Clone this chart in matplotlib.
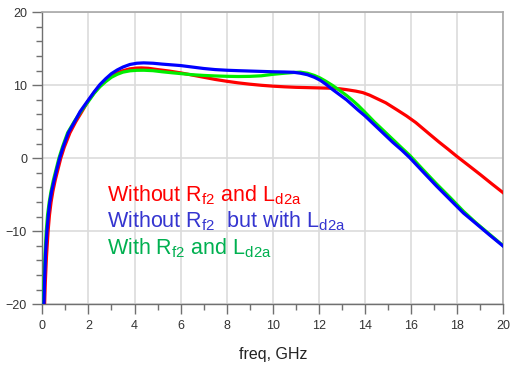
import matplotlib
matplotlib.use("Agg")
import matplotlib.pyplot as plt
from matplotlib.ticker import MultipleLocator

plt.rcParams['font.family'] = ['Liberation Sans', 'DejaVu Sans']
plt.rcParams['mathtext.fontset'] = 'custom'
plt.rcParams['mathtext.rm'] = 'Liberation Sans'
plt.rcParams['mathtext.it'] = 'Liberation Sans'

# Without Rf2 and Ld2a (red)
f_red = [0.10, 0.13, 0.18, 0.25, 0.31, 0.38, 0.46, 0.56, 0.68, 0.80, 0.95, 1.20, 1.45, 1.68, 2.0,
         2.25, 2.5, 2.75, 3.0, 3.25, 3.5, 3.8, 4.1, 4.3, 4.6, 5.0, 5.5, 6.0, 6.5, 7.0, 7.5, 8.0,
         8.5, 9.0, 9.5, 10.0, 10.5, 11.0, 11.5, 12.0, 12.5, 12.9, 13.2, 13.6, 13.9, 14.2, 14.5,
         14.9, 15.37, 15.8, 16.2, 16.5, 16.82, 17.2, 17.6, 17.98, 18.5, 19.0, 19.5, 20.0]
g_red = [-20.0, -17.0, -13.5, -10.0, -7.8, -6.0, -4.5, -3.0, -1.5, 0.0, 1.5, 3.5, 5.0, 6.2, 7.9,
         9.0, 10.0, 10.7, 11.3, 11.7, 12.0, 12.25, 12.36, 12.38, 12.33, 12.15, 11.95, 11.7, 11.4, 11.1, 10.8, 10.55,
         10.33, 10.15, 10.0, 9.88, 9.79, 9.72, 9.68, 9.64, 9.6, 9.52, 9.4, 9.2, 9.0, 8.65, 8.2,
         7.6, 6.67, 5.8, 4.9, 4.1, 3.25, 2.25, 1.25, 0.27, -1.0, -2.23, -3.5, -4.74]

# Without Rf2 but with Ld2a (blue)
f_blue = [0.07, 0.10, 0.14, 0.20, 0.26, 0.32, 0.40, 0.50, 0.62, 0.75, 0.90, 1.13, 1.40, 1.64, 2.0,
          2.25, 2.5, 2.75, 3.0, 3.25, 3.5, 3.8, 4.1, 4.4, 4.8, 5.2, 5.6, 6.0, 6.5, 7.0, 7.5, 8.0,
          8.5, 9.0, 9.5, 10.0, 10.5, 10.9, 11.2, 11.5, 11.8, 12.05, 12.3, 12.6, 12.9, 13.2, 13.45,
          13.7, 14.0, 14.4, 14.8, 15.2, 15.6, 15.95, 16.5, 17.1, 17.7, 18.27, 18.8, 19.4, 20.0]
g_blue = [-20.0, -16.5, -13.0, -10.0, -7.8, -6.1, -4.6, -3.2, -1.6, 0.0, 1.5, 3.5, 5.0, 6.4, 8.0,
          9.1, 10.1, 10.9, 11.6, 12.1, 12.5, 12.85, 13.02, 13.07, 13.02, 12.9, 12.8, 12.7, 12.5, 12.3, 12.15, 12.06,
          12.0, 11.95, 11.9, 11.85, 11.82, 11.78, 11.65, 11.45, 11.1, 10.7, 10.15, 9.4, 8.7, 8.0, 7.3,
          6.6, 5.8, 4.6, 3.4, 2.2, 1.1, 0.05, -1.8, -3.8, -5.7, -7.5, -8.9, -10.5, -12.05]

# With Rf2 and Ld2a (green)
f_green = [0.05, 0.08, 0.12, 0.17, 0.23, 0.30, 0.38, 0.48, 0.60, 0.72, 0.88, 1.10, 1.40, 1.65, 2.0,
           2.25, 2.5, 2.75, 3.0, 3.25, 3.5, 3.8, 4.1, 4.4, 4.8, 5.2, 5.6, 6.0, 6.5, 7.0, 7.5, 8.0,
           8.5, 9.0, 9.5, 10.0, 10.5, 10.9, 11.2, 11.5, 11.8, 12.05, 12.3, 12.6, 12.9, 13.2, 13.45,
           13.7, 14.0, 14.4, 14.8, 15.2, 15.6, 15.95, 16.5, 17.1, 17.7, 18.27, 18.8, 19.4, 20.0]
g_green = [-20.0, -16.5, -13.0, -10.0, -7.7, -6.0, -4.5, -3.0, -1.5, 0.0, 1.6, 3.5, 5.1, 6.3, 7.8,
           8.9, 9.8, 10.5, 11.1, 11.5, 11.8, 11.98, 12.05, 12.06, 12.0, 11.85, 11.72, 11.6, 11.45, 11.35, 11.28, 11.23,
           11.2, 11.22, 11.3, 11.5, 11.65, 11.75, 11.8, 11.65, 11.35, 11.0, 10.55, 9.96, 9.3, 8.6, 7.95,
           7.25, 6.3, 5.0, 3.8, 2.6, 1.4, 0.37, -1.5, -3.5, -5.4, -7.26, -8.8, -10.4, -12.0]

x_ticks = [0, 2, 4, 6, 8, 10, 12, 14, 16, 18, 20]
y_ticks = [-20, -10, 0, 10, 20]

fig = plt.figure(figsize=(5.11, 3.72), dpi=100)
ax = fig.add_axes([0.0828, 0.182, 0.9022, 0.785])

ax.plot(f_red, g_red, color='#ff0000', lw=2.3, zorder=3, solid_joinstyle='round')
ax.plot(f_green, g_green, color='#00ee00', lw=2.3, zorder=4, solid_joinstyle='round')
ax.plot(f_blue, g_blue, color='#0000ff', lw=2.3, zorder=5, solid_joinstyle='round')

ax.set_xlim(0, 20)
ax.set_ylim(-20, 20)
ax.set_xticks(x_ticks)
ax.set_yticks(y_ticks)
ax.xaxis.set_minor_locator(MultipleLocator(1))
ax.yaxis.set_minor_locator(MultipleLocator(2))
ax.grid(True, which='major', color='#dcdcdc', lw=1.2, zorder=0)
ax.tick_params(which='major', length=7, width=1, color='#707070', labelsize=9,
               labelcolor='#333333', pad=4)
ax.tick_params(which='minor', length=4.5, width=1, color='#707070')
for s in ['left', 'bottom']:
    ax.spines[s].set_color('#707070')
    ax.spines[s].set_linewidth(1.0)
for s in ['top', 'right']:
    ax.spines[s].set_color('#a8a8a8')
    ax.spines[s].set_linewidth(1.2)

ax.set_xlabel('freq, GHz', fontsize=11.5, color='#222222', labelpad=11)

ax.text(2.82, -5.9, r'Without R$_{\mathrm{f2}}$ and L$_{\mathrm{d2a}}$', color='#ff0000',
        fontsize=15.5, va='baseline', ha='left', zorder=6)
ax.text(2.82, -9.53, r'Without R$_{\mathrm{f2}}$  but with L$_{\mathrm{d2a}}$', color='#3535d0',
        fontsize=15.5, va='baseline', ha='left', zorder=6)
ax.text(2.82, -13.1, r'With R$_{\mathrm{f2}}$ and L$_{\mathrm{d2a}}$', color='#00b050',
        fontsize=15.5, va='baseline', ha='left', zorder=6)

fig.savefig('out.png', dpi=100)
